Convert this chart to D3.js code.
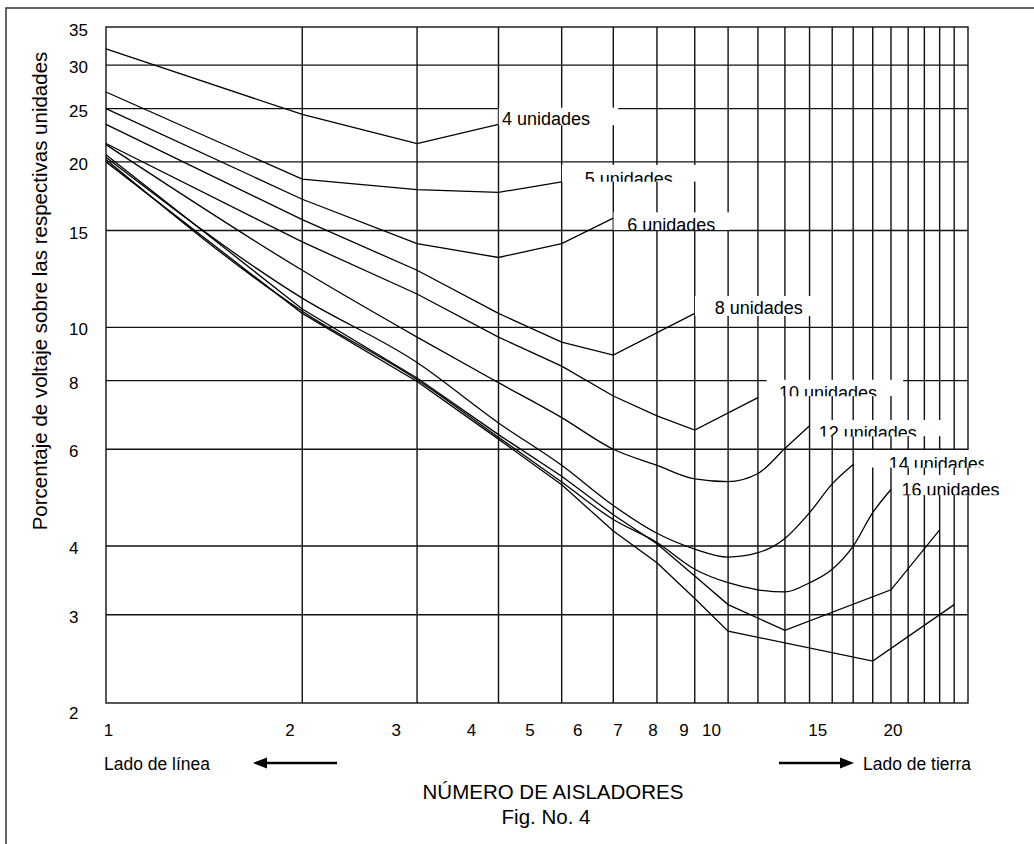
<!DOCTYPE html>
<html>
<head>
<meta charset="utf-8">
<script src="https://cdn.jsdelivr.net/npm/d3@7"></script>
<style>
  body { margin: 0; background: #fff; }
  svg text { font-family: "Liberation Sans", Arial, sans-serif; fill: #000; }
</style>
</head>
<body>
<svg id="chart" width="1034" height="844"></svg>
<script>
// Grid and tick values
const xGridValues = d3.range(2, 21);
const yGridValues = [3, 4, 6, 8, 10, 15, 20, 25, 30];
const xTickValues = [1, 2, 3, 4, 5, 6, 7, 8, 9, 10, 15, 20];
const yTickValues = [2, 3, 4, 6, 8, 10, 15, 20, 25, 30, 35];

// Percent of voltage on each unit, [insulator number, percent]
const u4 = [[1, 32.1], [2, 24.4], [3, 21.6], [4, 23.4]];
const u5 = [[1, 26.8], [2, 18.6], [3, 17.8], [4, 17.6], [5, 18.4]];
const u6 = [[1, 25.0], [2, 17.1], [3, 14.2], [4, 13.4], [5, 14.2], [6, 15.8]];
const u8 = [[1, 23.4], [2, 15.7], [3, 12.7], [4, 10.6], [5, 9.4], [6, 8.9], [8, 10.6]];
const u10 = [[1, 21.6], [2, 14.3], [3, 11.5], [4, 9.6], [5, 8.5], [6, 7.5], [7, 6.9], [8, 6.5], [10, 7.45]];
const u12 = [[1, 21.5], [2, 12.7], [3, 9.6], [4, 7.93], [5, 6.85], [6, 6.0], [7, 5.61], [8, 5.30],
             [9, 5.24], [10, 5.42], [11, 6.02], [12, 6.62]];
const u14 = [[1, 20.4], [2, 11.3], [3, 8.63], [4, 6.70], [5, 5.61], [6, 4.74], [7, 4.22], [8, 3.95],
             [9, 3.82], [10, 3.89], [11, 4.13], [12, 4.60], [13, 5.19], [14, 5.63]];
const u16 = [[1, 20.2], [2, 10.7], [3, 8.03], [4, 6.31], [5, 5.23], [6, 4.47], [7, 4.06], [8, 3.63],
             [9, 3.43], [10, 3.33], [11, 3.30], [12, 3.43], [13, 3.63], [14, 4.0], [15, 4.6], [16, 5.07]];
const u18 = [[1, 20.6], [2, 10.8], [3, 8.09], [4, 6.38], [5, 5.36], [6, 4.56], [7, 4.04], [8, 3.53],
             [9, 3.13], [11, 2.81], [16, 3.33], [19, 4.28]];
const u20 = [[1, 20.0], [2, 10.6], [3, 7.97], [4, 6.26], [5, 5.17], [6, 4.26], [7, 3.73], [8, 3.21],
             [9, 2.80], [15, 2.47], [20, 3.13]];

const unitLabels = ['4 unidades', '5 unidades', '6 unidades', '8 unidades',
                    '10 unidades', '12 unidades', '14 unidades', '16 unidades'];

const svg = d3.select('#chart');

// Plot frame
const plotLeft = 106, plotRight = 968, plotTop = 27, plotBottom = 703;

const x = d3.scaleLog().domain([1, 21]).range([plotLeft, plotRight]);
// the printed grid is a little looser than the frame, so 2 and 35 fall just outside it
const y = d3.scaleLog().domain([2, 35]).range([711.5, 28.3]);
// tick numbers in the figure sit on their own (shifted) log scale
const xLabel = d3.scaleLog().domain([1, 10]).range([108, 711]);

// Outer frame (only left and top edges visible)
svg.append('path')
    .attr('d', 'M6,850 V8 H1040')
    .attr('fill', 'none')
    .attr('stroke', '#333')
    .attr('stroke-width', 1.5);

// Grid
const grid = svg.append('g').attr('stroke', '#111').attr('stroke-width', 1.4);

grid.selectAll('line.v')
    .data(xGridValues)
    .enter().append('line')
    .attr('class', 'v')
    .attr('x1', d => x(d)).attr('x2', d => x(d))
    .attr('y1', plotTop).attr('y2', plotBottom);

grid.selectAll('line.h')
    .data(yGridValues)
    .enter().append('line')
    .attr('class', 'h')
    .attr('x1', plotLeft).attr('x2', plotRight)
    .attr('y1', d => y(d)).attr('y2', d => y(d));

grid.append('rect')
    .attr('x', plotLeft).attr('y', plotTop)
    .attr('width', plotRight - plotLeft).attr('height', plotBottom - plotTop)
    .attr('fill', 'none');

// Curves
const curves = [
    { pts: u4, smooth: false },
    { pts: u5, smooth: false },
    { pts: u6, smooth: false },
    { pts: u8, smooth: false },
    { pts: u10, smooth: false },
    { pts: u12, smooth: true },
    { pts: u14, smooth: true },
    { pts: u16, smooth: true },
    { pts: u18, smooth: false },
    { pts: u20, smooth: false }
];

const line = d3.line().x(d => x(d[0])).y(d => y(d[1]));

svg.append('g')
    .selectAll('path')
    .data(curves)
    .enter().append('path')
    .attr('d', c => line.curve(c.smooth ? d3.curveMonotoneX : d3.curveLinear)(c.pts))
    .attr('fill', 'none')
    .attr('stroke', '#000')
    .attr('stroke-width', 1.3);

// Curve labels: white boxes anchored to each curve's last point
// dx, dy: box offset from end point; w, h: box size; tx: text inset; tb: baseline below box bottom
const labelLayout = [
    { dx: 0,   dy: -17,   w: 120, h: 18,   tx: 3.5,  tb: 0 },
    { dx: 0,   dy: -17,   w: 141, h: 17,   tx: 23,   tb: 3 },
    { dx: 0,   dy: -6,    w: 116, h: 18,   tx: 14,   tb: 1 },
    { dx: 0,   dy: -17.5, w: 127, h: 20,   tx: 20,   tb: -1.5 },
    { dx: 8.5, dy: -18,   w: 137, h: 16.7, tx: 12.5, tb: 3 },
    { dx: 1.7, dy: -6,    w: 132, h: 16.6, tx: 7.5,  tb: 2.5 },
    { dx: 15.5, dy: -14.5, w: 115, h: 17.7, tx: 20,  tb: 2 },
    { dx: 3,   dy: -14.5, w: 111, h: 20.3, tx: 7.5,  tb: 1 }
];

const defs = svg.append('defs');

unitLabels.forEach((label, i) => {
    const end = curves[i].pts[curves[i].pts.length - 1];
    const L = labelLayout[i];
    const bx = x(end[0]) + L.dx;
    const by = y(end[1]) + L.dy;

    defs.append('clipPath').attr('id', 'clip-' + i)
        .append('rect')
        .attr('x', bx).attr('y', by).attr('width', L.w).attr('height', L.h);

    const g = svg.append('g').attr('clip-path', 'url(#clip-' + i + ')');
    g.append('rect')
        .attr('x', bx).attr('y', by).attr('width', L.w).attr('height', L.h)
        .attr('fill', '#fff');
    g.append('text')
        .attr('x', bx + L.tx)
        .attr('y', by + L.h + L.tb)
        .attr('font-size', 18)
        .text(label);
});

// X tick numbers
const xAxis = svg.append('g')
    .attr('transform', 'translate(0,724)')
    .call(d3.axisBottom(xLabel).tickValues(xTickValues).tickFormat(d3.format('d')).tickSize(0).tickPadding(0));
xAxis.select('.domain').remove();
xAxis.selectAll('text')
    .attr('font-family', '"Liberation Sans", Arial, sans-serif')
    .attr('font-size', 17)
    .attr('fill', '#000');

// Y tick numbers
const yAxis = svg.append('g')
    .attr('transform', 'translate(69,2)')
    .call(d3.axisLeft(y).tickValues(yTickValues).tickFormat(d3.format('d')).tickSize(0).tickPadding(0));
yAxis.select('.domain').remove();
yAxis.selectAll('text')
    .attr('x', 0)
    .attr('text-anchor', 'start')
    .attr('font-family', '"Liberation Sans", Arial, sans-serif')
    .attr('font-size', 17)
    .attr('fill', '#000');

// Y title
svg.append('text')
    .attr('transform', 'translate(47,291) rotate(-90)')
    .attr('text-anchor', 'middle')
    .attr('font-size', 20.5)
    .text('Porcentaje de voltaje sobre las respectivas unidades');

// Side notes and arrows
svg.append('text')
    .attr('x', 104).attr('y', 770)
    .attr('font-size', 17.5)
    .text('Lado de línea');

svg.append('text')
    .attr('x', 863).attr('y', 770)
    .attr('font-size', 17.5)
    .text('Lado de tierra');

const arrows = svg.append('g');
arrows.append('line')
    .attr('x1', 337).attr('x2', 262).attr('y1', 763).attr('y2', 763)
    .attr('stroke', '#000').attr('stroke-width', 2.6);
arrows.append('path')
    .attr('d', 'M253,763 L267,757.5 L267,768.5 Z')
    .attr('fill', '#000');
arrows.append('line')
    .attr('x1', 779).attr('x2', 845).attr('y1', 763).attr('y2', 763)
    .attr('stroke', '#000').attr('stroke-width', 2.6);
arrows.append('path')
    .attr('d', 'M854,763 L840,757.5 L840,768.5 Z')
    .attr('fill', '#000');

// Bottom titles
svg.append('text')
    .attr('x', 553).attr('y', 799)
    .attr('text-anchor', 'middle')
    .attr('font-size', 20.5)
    .text('NÚMERO DE AISLADORES');

svg.append('text')
    .attr('x', 546).attr('y', 824)
    .attr('text-anchor', 'middle')
    .attr('font-size', 20.5)
    .text('Fig. No. 4');
</script>
</body>
</html>
